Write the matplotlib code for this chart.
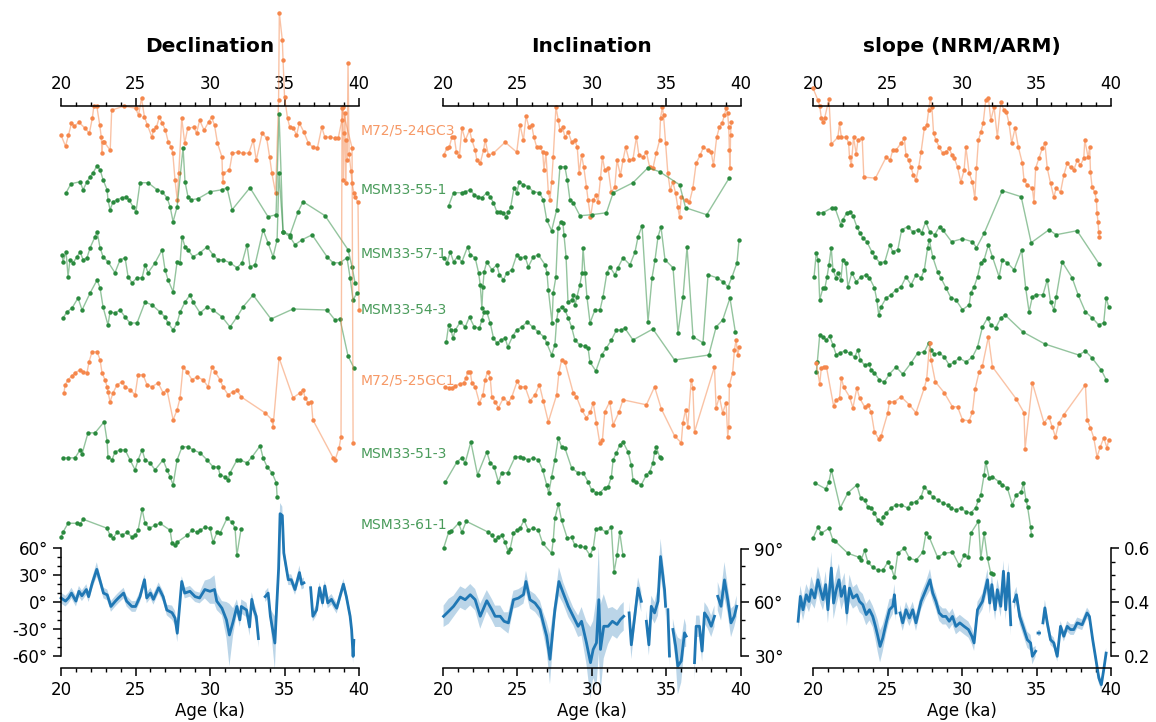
import numpy as np
import matplotlib
matplotlib.use("Agg")
import matplotlib.pyplot as plt
from matplotlib.ticker import MultipleLocator, FixedLocator
from matplotlib.transforms import blended_transform_factory

nan = np.nan

# cores, top to bottom
cores = ["M72/5-24GC3", "MSM33-55-1", "MSM33-57-1", "MSM33-54-3",
         "M72/5-25GC1", "MSM33-51-3", "MSM33-61-1"]
orange = "#f5874c"
green = "#2a8a3e"
core_colors = [orange, green, green, green, orange, green, green]

# ---------------- declination records (anomaly, deg) ----------------
dec_age_24gc3 = [20.0, 20.3, 20.5, 20.7, 20.9, 21.2, 21.6, 21.9, 22.1, 22.2, 22.4, 22.6, 22.7, 22.75, 22.8, 22.9,
                 23.3, 23.4, 24.2, 25.0, 25.2, 25.4, 25.6, 25.8, 26.1, 26.2, 26.4, 26.6, 26.8, 27.0, 27.2, 27.4,
                 27.5, 27.65, 27.8, 27.9, 28.1, 28.3, 28.5, 28.9, 29.1, 29.3, 29.6, 29.9, 30.1, 30.3, 30.5, 30.8,
                 30.85, 30.9, 31.3, 31.5, 31.9, 32.2, 32.6, 32.9, 33.1, 33.5, 33.8, 34.0, 34.15, 34.4, 34.6, 34.65,
                 34.85, 34.9, 35.0, 35.2, 35.35, 35.6, 35.8, 36.0, 36.3, 36.6, 36.9, 37.2, 37.5, 37.7, 38.05, 38.4,
                 38.6, 38.85, 38.9, 38.95, 39.0, 39.05, 39.1, 39.15, 39.2, 39.26, 39.33, 39.46, 39.53, 39.66, 39.73,
                 39.93, 40.0]
dec_24gc3 = [-5, -16, -5, 7, 4, 8, 2, -3, 12, 24, 24, 5, -7, -23, -12, -12,
             -20, 20, 24, 22, 15, 32, 13, 5, -7, 0, 3, 13, 7, 0, -12, -17,
             -23, -50, -70, -43, 12, -13, 2, 3, -3, 10, 0, 8, 13, 5, -13, -27,
             -52, -43, -40, -23, -22, -23, -23, -10, -30, -3, -8, -27, -43, -63, 30, 117,
             90, 70, 33, 12, 3, 2, -5, 7, -2, -13, -17, -18, 3, -7, -7, -8,
             -8, 10, 23, -50, -3, 17, -53, -10, -30, 67, -24, -41, -53, -63, -67,
             -72, -180]

dec_age_55 = [20.34, 20.67, 21.28, 21.48, 21.74, 21.95, 22.15, 22.42, 22.62, 22.82, 23.09, 23.15, 23.29, 23.49,
              23.76, 24.09, 24.36, 24.56, 24.83, 25.03, 25.3, 25.84, 26.44, 26.78, 27.11, 27.32, 27.52, 27.79,
              28.19, 28.32, 28.52, 28.72, 29.19, 30.0, 30.81, 31.14, 31.48, 32.68, 33.89, 34.43, 34.63, 34.9,
              35.37, 35.91, 36.24, 37.72, 39.26, 39.53, 39.73]
dec_55 = [-3, 6, 8, 0, 8, 13, 17, 24, 20, 10, 0, -10, -20, -12,
          -10, -8, -7, -10, -17, -22, 7, 7, 0, -2, -8, -17, -32, -17,
          42, 8, -7, -10, -9, -2, 0, 2, -20, 2, -27, -25, 76, -42,
          -45, -22, -12, -26, -60, -77, -93]

dec_age_57 = [20.07, 20.13, 20.34, 20.47, 20.6, 20.81, 21.07, 21.28, 21.48, 21.74, 21.95, 22.28, 22.42, 22.62,
              22.82, 23.15, 23.62, 23.96, 24.3, 24.5, 24.77, 25.1, 25.44, 25.64, 25.84, 26.31, 26.78, 26.98,
              27.18, 27.52, 27.79, 27.99, 28.12, 28.32, 28.52, 28.86, 29.33, 29.8, 30.2, 30.54, 30.87, 31.34,
              31.81, 32.15, 32.48, 32.68, 33.02, 33.56, 33.89, 34.23, 34.5, 34.63, 34.9, 35.37, 35.7, 36.17,
              36.85, 37.85, 38.26, 38.72, 39.19, 39.4, 39.6, 39.87]
dec_57 = [-1, -8, 2, -23, -6, -9, -3, 2, -6, -4, 6, 17, 22, 6,
          -3, -8, -19, -6, -4, -23, -29, -24, -24, -11, -19, -9, 4, -16,
          -26, -38, -8, -9, 17, 7, 4, -3, 1, 7, -1, -6, -6, -9,
          -14, -9, 9, -13, -11, 24, 11, -3, 14, 81, 22, 17, 9, 14,
          19, -3, -9, -9, -4, -24, -46, -39]

dec_age_54 = [20.13, 20.4, 20.74, 21.14, 21.41, 21.95, 22.42, 22.62, 22.82, 23.15, 23.29, 23.62, 23.96, 24.3,
              24.63, 25.1, 25.64, 26.11, 26.64, 26.98, 27.18, 27.52, 27.79, 27.99, 28.32, 28.66, 28.86, 29.33,
              29.8, 30.2, 30.81, 31.34, 31.81, 32.21, 32.89, 34.09, 35.57, 37.85, 38.39, 38.72, 39.26, 39.66]
dec_54 = [-8, -2, 2, 12, 0, 17, 30, 22, 3, -15, -2, -3, 0, -7,
          -13, -13, 8, 5, -2, -7, -13, -20, -13, -2, 8, 15, 8, -3,
          3, 0, -7, -17, -7, 3, 15, -9, 1, 0, -10, -9, -46, -58]

dec_age_25gc1 = [20.2, 20.27, 20.47, 20.74, 20.94, 21.28, 21.48, 21.74, 21.88, 22.08, 22.42, 22.62, 22.75, 22.95,
                 23.09, 23.15, 23.29, 23.49, 23.76, 24.09, 24.3, 24.63, 24.97, 25.17, 25.5, 25.77, 26.11, 26.51,
                 26.85, 27.11, 27.52, 27.79, 27.99, 28.19, 28.46, 28.79, 29.13, 29.53, 29.87, 30.13, 30.34, 30.67,
                 30.87, 31.21, 31.54, 31.81, 32.08, 33.69, 34.16, 34.23, 34.63, 35.57, 36.04, 36.24, 36.38, 36.58,
                 36.8, 36.9, 38.26, 38.39, 38.66, 38.79, 38.86, 39.53, 39.6]
dec_25gc1 = [-12, -4, 1, 5, 8, 11, 9, 8, 19, 29, 29, 21, 8, 1,
             -6, -11, -21, -12, -4, -1, -6, -9, -14, 6, 6, -4, -6, -2,
             -12, -9, -39, -29, -17, 14, 9, 1, 4, 1, -6, 14, 9, 1,
             -6, -14, -11, -9, -16, -32, -39, -46, 23, -17, -12, -9, -17, -22,
             -21, -39, -77, -79, -67, -56, 273, 233, -62]

dec_age_51 = [20.13, 20.47, 20.94, 21.28, 21.41, 21.81, 22.28, 22.89, 23.09, 23.15, 23.42, 23.62, 23.96, 24.3,
              24.63, 24.97, 25.17, 25.44, 25.64, 25.97, 26.31, 26.85, 27.11, 27.32, 27.52, 27.79, 28.12, 28.52,
              28.86, 29.33, 29.8, 30.2, 30.54, 30.67, 31.0, 31.21, 31.34, 31.81, 32.01, 32.48, 32.82, 33.36,
              33.56, 33.83, 34.16, 34.45, 34.5]
dec_51 = [-4, -4, -4, 4, 0, 21, 21, 32, 13, -3, -6, 2, 4, 4,
          -6, -16, -6, 4, -6, -9, -16, -6, -16, -23, -31, -6, 7, 7,
          4, 1, -6, -13, -13, -21, -23, -26, -19, -6, -6, -9, -3, 8,
          -4, -13, -19, -29, -43]

dec_age_61 = [20.0, 20.13, 20.47, 21.07, 21.28, 21.48, 23.09, 23.29, 23.49, 23.76, 24.09, 24.43, 24.77, 24.97,
              25.17, 25.44, 25.64, 25.91, 26.31, 26.64, 27.32, 27.45, 27.65, 27.79, 28.46, 28.79, 29.13, 29.33,
              29.66, 30.0, 30.2, 30.47, 30.67, 31.14, 31.48, 31.68, 31.8, 32.08]
dec_61 = [-12, -7, 2, 2, 1, 6, -3, -10, -13, -7, -10, -7, -12, -10,
          -5, 16, 2, -3, 0, 2, -5, -18, -20, -17, -10, -5, -7, -5,
          -2, -3, -17, -7, -8, 7, 3, -3, -30, -4]

# declination stack (deg) with half-width of the uncertainty band
dec_stack_age = [20.0, 20.3, 20.5, 20.7, 21.0, 21.2, 21.4, 21.7, 21.85, 22.1, 22.4, 22.6, 22.85, 23.1, 23.35,
                 23.65, 23.85, 24.2, 24.4, 24.75, 25.0, 25.3, 25.6, 25.75, 26.0, 26.2, 26.55, 26.85, 27.1, 27.45,
                 27.65, 27.8, 28.1, 28.3, 28.65, 29.0, 29.3, 29.65, 30.0, 30.3, 30.45, 30.8, 31.1, 31.3, 31.55,
                 31.8, 32.0, 32.1, 32.45, 32.65, 32.8, 32.95, 33.1, 33.25, 33.45, 33.7, 33.9, 34.05, 34.35, 34.6,
                 34.7, 34.85, 34.95, 35.25, 35.45, 35.7, 36.0, 36.15, 36.3, 36.5, 36.75, 36.9, 37.15, 37.35, 37.55,
                 37.7, 37.9, 38.15, 38.35, 38.5, 38.95, 39.15, 39.4, 39.5, 39.6, 39.65]
dec_stack = [4.5, 1, 4.5, 10, 1, 12, 7, 14, 6, 21.5, 36.6, 25, 10, 8, -5,
             1, 4.5, 10, 1, -5, -5, 6, 25, 4.5, 10, 3, 16, 6, -9, -12,
             -18, -35, 23, 10, 12, 6, 4.5, 14, 12, 14, 1, -7, -20, -37, -22,
             -5, -20, -5, -9, -28, 3, -9, -16, -41, nan, 6, 10, -16, -46, 37,
             99, 97, 55, 25, 25, 14, 33, 20, 21.5, nan, 16, -16, -9, 16, -1,
             18, -1, 3, -3, -7, 20, 6, -16, -31, -61, -43]
dec_stack_err = [6, 6, 6, 6, 6, 6, 6, 6, 6, 6, 8, 6, 6, 6, 6,
                 6, 6, 6, 6, 6, 6, 6, 6, 6, 6, 6, 6, 6, 6, 8,
                 8, 10, 6, 6, 6, 6, 6, 10, 14, 16, 10, 8, 20, 35, 15,
                 8, 8, 8, 8, 10, 8, 8, 8, 10, nan, 6, 6, 8, 30, 12,
                 12, 10, 8, 6, 6, 6, 8, 6, 6, nan, 6, 6, 6, 6, 6,
                 6, 6, 6, 6, 6, 6, 6, 6, 8, 8, 8]

# ---------------- inclination records (anomaly, deg) ----------------
inc_age_24gc3 = [20.05, 20.27, 20.42, 20.6, 20.76, 20.9, 21.1, 21.27, 21.5, 21.78, 21.94, 22.16, 22.27, 22.5,
                 22.72, 22.83, 23.05, 23.39, 24.17, 24.95, 25.17, 25.4, 25.57, 25.77, 25.95, 26.1, 26.29, 26.51,
                 26.69, 26.78, 26.91, 27.07, 27.18, 27.29, 27.4, 27.58, 27.74, 27.85, 28.03, 28.18, 28.41, 28.63,
                 28.85, 29.01, 29.14, 29.3, 29.45, 29.63, 29.74, 29.9, 30.08, 30.26, 30.41, 30.57, 30.7, 30.86,
                 31.08, 31.3, 31.53, 31.68, 31.91, 32.08, 32.26, 32.49, 32.75, 32.98, 33.15, 33.42, 33.65, 33.87,
                 34.09, 34.31, 34.54, 34.6, 34.72, 34.8, 34.94, 35.09, 35.25, 35.43, 35.61, 35.76, 35.88, 35.99,
                 36.28, 36.54, 36.77, 36.99, 37.26, 37.48, 37.77, 38.0, 38.15, 38.37, 38.55, 38.73, 38.89, 39.0,
                 39.1, 39.18, 39.22, 39.26, 39.3, 39.35]
inc_24gc3 = [-12.5, -9, -8.5, -3.5, -3.5, -11, -13, 1, -5, 0, -5, -10, -15, -16.5,
             -10, -5, -12.5, -11.5, -6, -11, 2.5, -5, 7, 1.5, 2.5, -3.5, -8.5, -8.5,
             -11, -20, -11.5, -31, -35, -26, -13.5, 11.5, 5, 0, 1.5, -3.5, -1, -6,
             -5, -8.5, -21.5, -12.5, -18.5, -28.5, -35, -43.5, -35, -32.5, -36, -24, -13.5, -20,
             -19, -31, -28.5, -15, -22.5, -15, -8.5, -15, -14.5, -3.5, -12.5, -13.5, -11, -18.5,
             -19, -11.5, -5, 6, 11.5, 7.5, -6.5, -21.5, -30, -26, -31.5, -38.5, -43.5, -33.5,
             -35, -36, -29, -16.5, -12.5, -8.5, -10, -11, -17.5, -3.5, 1.5, 3.5, 7.5, 11,
             8.5, 1.5, -10, -19, -2.5, 4]

inc_age_55 = [20.38, 20.71, 21.27, 21.49, 21.83, 22.1, 22.32, 22.61, 22.94, 23.17, 23.39, 23.61, 23.84, 24.01,
              24.24, 24.39, 24.55, 24.77, 24.95, 25.13, 25.4, 25.73, 26.06, 26.47, 26.73, 26.96, 27.29, 27.63,
              27.85, 28.18, 28.34, 28.52, 28.74, 29.19, 29.97, 30.97, 31.42, 32.75, 33.76, 34.54, 35.88, 36.28,
              37.7, 39.22]
inc_55 = [-8, -1.5, -1.5, -1, 0, -2.5, -3.5, -4, -1.5, -3.5, -6.5, -11, -11, -11.5,
          -13.5, -11, -8.5, 1, -1.5, 4, 2.5, 1.5, -1, -1.5, -5, -15, -20.5, -10,
          11.5, 11.5, 5, -5, -6.5, -13, -12.5, -11.5, -1.5, 3.5, 11, 9, 2.5, -9,
          -12.5, 6]

inc_age_57 = [20.09, 20.27, 20.49, 20.71, 20.98, 21.27, 21.65, 21.83, 22.16, 22.39, 22.5, 22.61, 22.68, 22.76,
              22.94, 23.28, 23.61, 23.79, 24.06, 24.28, 24.62, 24.95, 25.17, 25.51, 25.73, 26.06, 26.4, 26.85,
              26.98, 27.07, 27.32, 27.4, 27.58, 27.72, 27.92, 28.05, 28.12, 28.26, 28.39, 28.66, 28.72, 28.86,
              28.99, 29.19, 29.33, 29.4, 29.53, 29.66, 29.87, 30.2, 30.54, 30.74, 31.0, 31.2, 31.54, 31.74,
              32.08, 32.55, 32.89, 33.09, 33.36, 33.76, 34.03, 34.23, 34.43, 34.63, 34.9, 35.44, 35.77, 36.11,
              36.38, 36.78, 37.45, 37.79, 38.39, 38.79, 39.13, 39.4, 39.73, 39.87]
inc_57 = [-2, -4.5, 1, -4, -1.5, -4, 3.5, -0.5, -2, -9.5, -15.5, -27, -16.5, -9,
          -4, -8, -5.5, -10.5, -13, -9.5, -8, -0.5, -2, -1.5, -6.5, -1.5, -0.5, -5.5,
          -9.5, -18, -34.5, -19.5, -11.5, 13, 16, 15.5, 9.5, -1.5, -24, -23, -20.5, -25.5,
          -21.5, -15.5, -9.5, 3, -9.5, -21.5, -34.5, -28, -28, -21.5, -9.5, -6.5, -10.5, -7,
          -2, -5.5, 1, 8.5, 14, -34, -12, -3, 8.5, 13.5, -3, -7, -39.5, -21.5,
          3.5, -41.5, -44.5, -10.5, -12, -14, -16.5, -11.5, -4.5, 7]

inc_age_54 = [20.22, 20.38, 20.54, 20.67, 20.83, 21.16, 21.49, 21.78, 22.1, 22.45, 22.61, 22.76, 22.94, 23.17,
              23.39, 23.61, 23.88, 24.17, 24.35, 24.68, 24.95, 25.28, 25.66, 26.02, 26.4, 26.78, 26.96, 27.29,
              27.51, 27.63, 27.74, 27.96, 28.18, 28.41, 28.63, 28.85, 29.19, 29.52, 29.74, 29.86, 30.26, 30.64,
              30.97, 31.3, 31.64, 31.97, 32.2, 32.75, 34.09, 35.54, 37.84, 38.33, 38.77, 39.26, 39.62]
inc_54 = [-16, -7.5, -10, -14, -10, -6, -8.5, -3.5, -8.5, -9, -5, -1, -1, -6.5,
          -14, -16.5, -15, -14, -18.5, -13, -10, -8.5, -6, -8.5, -11, -13.5, -16.5, -22.5,
          -17.5, -5, 0, 1.5, 0, -4, -8.5, -15, -17.5, -18, -19, -26, -30.5, -22.5,
          -19, -15, -10, -10, -9, -15, -9.5, -25, -22.5, -8.5, -5, 6, -11]

inc_age_25gc1 = [20.16, 20.38, 20.6, 20.83, 21.16, 21.38, 21.56, 21.65, 21.83, 21.94, 22.16, 22.45, 22.68, 22.83,
                 22.99, 23.17, 23.28, 23.5, 23.72, 24.06, 24.39, 24.62, 24.99, 25.17, 25.51, 25.84, 26.18, 26.47,
                 26.73, 27.07, 27.63, 27.78, 27.96, 28.18, 28.74, 28.96, 29.3, 29.63, 29.9, 30.08, 30.3, 30.52,
                 30.7, 30.86, 31.19, 31.42, 31.82, 32.08, 33.65, 34.2, 34.65, 35.54, 35.99, 36.1, 36.28, 36.43,
                 36.66, 36.77, 36.88, 38.22, 38.33, 38.55, 38.77, 39.0, 39.11, 39.18, 39.22, 39.44, 39.56, 39.67,
                 39.78, 39.89]
inc_25gc1 = [-3, -3.5, -3.5, -2.5, -1.5, -1, 1.5, 4.5, 4.5, -1, -3, -11, -7, 0.5,
             4.5, 1.5, -8, -10.5, -13.5, -8.5, -11, -8, 0, -3, -3, -10, -7, -2,
             -10, -20.5, -7, 4, 10.5, 9.5, -6, -8, -14.5, -18.5, -15.5, -11, -21, -31,
             -29.5, -15.5, -10.5, -22, -15.5, -9.5, -12, -3, -14, -27.5, -31, -21, -14.5, -23,
             0.5, -3.5, -25.5, 7, -13.5, -8, -16, -11, -28, -23, -2, 4, 15.5, 20.5,
             13, 17]

inc_age_51 = [20.16, 20.94, 21.27, 21.49, 21.87, 22.32, 22.94, 23.17, 23.43, 23.72, 23.94, 24.34, 24.84, 25.17,
              25.4, 25.73, 26.06, 26.4, 26.69, 26.96, 27.1, 27.29, 27.51, 27.74, 27.96, 28.18, 28.63, 29.07,
              29.41, 29.74, 29.97, 30.3, 30.52, 30.86, 31.08, 31.3, 31.42, 31.64, 31.86, 32.08, 32.42, 32.64,
              32.75, 32.98, 33.31, 33.65, 33.87, 34.09, 34.2, 34.31, 34.54, 34.6]
inc_51 = [-14, -4, -2, -4.5, 6, -10.5, 1, -4.5, -6.5, -14, -9.5, -9.5, -1.5, -1.5,
          -2, -3, -2, -3, -8, -15.5, -19.5, -11.5, -3, 8, 3.5, 3, -7, -9.5,
          -9.5, -14, -18, -19.5, -19.5, -17, -16.5, -11.5, -3, 0.5, 4.5, 6, 1, -5.5,
          -13, -14, -15.5, -10.5, -9, -4.5, 1, 3.5, -1.5, -2]

inc_age_61 = [20.04, 20.38, 20.54, 21.05, 21.27, 21.56, 23.05, 23.28, 23.5, 23.72, 23.95, 24.17, 24.39, 24.5,
              24.73, 24.95, 25.17, 25.44, 25.73, 26.06, 26.4, 26.69, 27.29, 27.4, 27.51, 27.74, 27.96, 28.34,
              28.63, 28.85, 29.19, 29.52, 29.86, 30.08, 30.26, 30.52, 30.97, 31.3, 31.48, 31.68, 31.86, 32.08]
inc_61 = [-11.5, -3.5, -3, 1, -3.5, 2, -3.5, -5, -7.5, -6, -5, -8.5, -13.5, -12,
          -4, -2.5, -1.5, 2.5, -2.5, -1.5, -2.5, -9, -14, -7.5, 3.5, 10.5, 2.5, -6.5,
          -6, -10, -10.5, -11, -15, -11.5, -2, -1.5, -3.5, -1, -23.5, -15, -3.5, -15]

inc_stack_age = [20.04, 20.38, 20.71, 21.16, 21.49, 21.83, 22.16, 22.5, 22.94, 23.28, 23.5, 23.84, 24.1, 24.39,
                 24.73, 25.06, 25.4, 25.57, 25.84, 26.18, 26.51, 26.73, 26.96, 27.18, 27.51, 27.78, 28.07, 28.41,
                 28.74, 29.07, 29.3, 29.63, 29.9, 30.08, 30.3, 30.46, 30.57, 30.79, 31.08, 31.37, 31.68, 31.91,
                 32.13, 32.3, 32.49, 32.64, 32.87, 33.09, 33.31, 33.5, 33.65, 33.82, 33.98, 34.2, 34.43, 34.6,
                 34.87, 34.94, 35.0, 35.09, 35.2, 35.3, 35.43, 35.61, 35.76, 35.99, 36.21, 36.32, 36.6, 36.88,
                 36.99, 37.21, 37.39, 37.55, 37.77, 38.0, 38.22, 38.33, 38.44, 38.66, 38.89, 39.11, 39.33, 39.55,
                 39.71]
inc_stack = [52, 54.8, 57.6, 62.8, 61.3, 64.1, 61.3, 52, 60.7, 55.7, 52, 52, 49.2, 48.3,
             61.3, 62.2, 64.1, 71.5, 61.3, 59.4, 55.7, 48.3, 40.9, 27.9, 55.7, 71.5, 65, 57.6,
             52, 46.4, 49.2, 37.1, 26, 33.4, 37.1, 61.3, 33.4, 46.4, 46.4, 49.2, 47.4, 50.2,
             52, nan, 53.9, 36, 52, 67.8, 60.4, nan, 49.2, 36, 57.6, 53.9, 60.4, 85.5,
             66.9, 57.6, nan, 55.7, 29.7, nan, 44.6, 35.3, 24.1, 26.9, 42.7, 40.9, nan, 26,
             46.4, 46.4, 32.5, 53.9, 51.1, 46.4, 52, nan, 63.2, 57.6, 72.4, 61.3, 48.3, 52,
             57.6]
inc_stack_err = [6, 7, 6, 6, 6, 6, 6, 7, 6, 6, 6, 6, 5, 6, 5, 5, 5, 6, 5, 5,
                 5, 6, 8, 14, 6, 8, 6, 6, 5, 6, 8, 12, 20, 16, 25, 30, 25, 18, 10, 8,
                 8, 8, 8, nan, 6, 8, 6, 6, 6, nan, 6, 6, 6, 6, 8, 10, 8, 6, nan, 6,
                 6, nan, 6, 8, 16, 12, 8, 6, nan, 10, 6, 6, 6, 6, 6, 6, 6, nan, 8, 8,
                 10, 8, 8, 6, 6]

# ---------------- slope (NRM/ARM) records (anomaly) ----------------
sl_age_24gc3 = [20.0, 20.33, 20.45, 20.56, 20.67, 20.78, 21.07, 21.23, 21.67, 21.78, 21.9, 22.23, 22.39, 22.45,
                22.57, 22.72, 22.9, 23.01, 23.3, 23.41, 24.19, 24.91, 25.17, 25.35, 25.57, 25.91, 26.13, 26.24,
                26.42, 26.58, 26.73, 26.91, 27.09, 27.25, 27.47, 27.63, 27.76, 27.87, 27.98, 28.09, 28.25, 28.47,
                28.7, 28.92, 29.14, 29.32, 29.48, 29.7, 29.92, 30.14, 30.26, 30.48, 30.7, 30.86, 30.97, 31.1,
                31.26, 31.42, 31.59, 31.77, 31.93, 32.15, 32.37, 32.6, 32.82, 32.98, 33.15, 33.33, 33.56, 33.78,
                34.05, 34.16, 34.38, 34.72, 34.83, 34.94, 35.16, 35.39, 35.56, 35.72, 35.94, 36.16, 36.32, 36.61,
                36.83, 37.06, 37.28, 37.5, 37.73, 37.95, 38.17, 38.24, 38.46, 38.57, 38.62, 38.73, 38.91, 39.02,
                39.06, 39.13, 39.17, 39.22]
sl_24gc3 = [0.168, 0.12, 0.096, 0.048, 0.032, 0.048, 0.124, -0.056, -0.028, 0.028, -0.028, -0.028, -0.052, -0.108,
            -0.14, -0.028, -0.096, -0.04, -0.032, -0.188, -0.192, -0.108, -0.12, -0.08, -0.08, -0.052, -0.032, -0.1,
            -0.12, -0.148, -0.18, -0.2, -0.148, -0.088, 0.008, 0.02, 0.08, 0.128, 0.092, -0.012, -0.04, -0.068,
            -0.092, -0.088, -0.072, -0.1, -0.112, -0.148, -0.208, -0.16, -0.068, -0.172, -0.208, -0.272, -0.152, -0.04,
            -0.008, 0.028, 0.12, 0.128, 0.04, 0.092, -0.028, 0.112, 0.08, 0.072, 0.028, -0.052, 0.008, -0.068,
            -0.132, -0.2, -0.22, -0.232, -0.288, -0.152, -0.112, -0.072, -0.052, -0.152, -0.212, -0.268, -0.232, -0.248,
            -0.18, -0.132, -0.148, -0.16, -0.12, -0.14, -0.112, -0.04, -0.108, -0.068, -0.168, -0.228, -0.248, -0.28,
            -0.332, -0.368, -0.408, -0.428]

sl_age_55 = [20.34, 20.67, 21.27, 21.47, 21.87, 22.0, 22.27, 22.47, 22.68, 22.94, 23.14, 23.34, 23.61, 23.95,
             24.15, 24.48, 24.82, 25.15, 25.35, 25.69, 25.95, 26.35, 26.69, 27.02, 27.29, 27.56, 27.83, 28.16,
             28.49, 28.7, 29.3, 30.03, 30.7, 30.97, 31.5, 32.7, 33.97, 34.64, 35.84, 36.31, 37.72, 39.19]
sl_55 = [-0.092, -0.092, -0.072, -0.072, -0.14, -0.12, -0.092, -0.088, -0.104, -0.148, -0.172, -0.192, -0.208, -0.248,
         -0.268, -0.292, -0.288, -0.22, -0.248, -0.24, -0.16, -0.148, -0.168, -0.16, -0.172, -0.128, -0.168, -0.18,
         -0.148, -0.16, -0.208, -0.196, -0.208, -0.232, -0.172, -0.004, -0.028, -0.212, -0.16, -0.18, -0.164, -0.296]

sl_age_57 = [20.07, 20.22, 20.34, 20.45, 20.67, 20.8, 20.94, 21.07, 21.22, 21.34, 21.54, 21.67, 21.87, 22.0,
             22.2, 22.34, 22.61, 22.9, 23.23, 23.57, 23.79, 24.12, 24.28, 24.41, 24.57, 24.91, 25.24, 25.57,
             25.91, 26.24, 26.58, 26.91, 27.25, 27.47, 27.69, 27.8, 28.03, 28.36, 28.58, 28.92, 29.25, 29.59,
             30.03, 30.48, 30.59, 30.81, 31.04, 31.26, 31.48, 31.77, 32.04, 32.49, 32.71, 33.04, 33.49, 34.0,
             34.27, 34.5, 34.72, 34.94, 35.43, 35.72, 35.94, 36.17, 36.32, 36.72, 37.39, 37.79, 38.28, 38.73,
             39.17, 39.51, 39.67, 39.84]
sl_57 = [-0.092, 0.004, -0.024, -0.184, -0.136, -0.136, -0.092, -0.044, 0.024, -0.064, -0.096, -0.076, -0.104, -0.024,
         -0.036, -0.132, -0.076, -0.112, -0.092, -0.084, -0.096, -0.136, -0.184, -0.244, -0.212, -0.176, -0.164, -0.144,
         -0.132, -0.092, -0.124, -0.084, -0.096, -0.064, 0.024, 0.056, -0.012, -0.072, -0.096, -0.136, -0.176, -0.184,
         -0.224, -0.204, -0.156, -0.132, -0.092, -0.036, -0.024, 0.036, -0.012, -0.092, -0.024, -0.036, -0.064, 0.016,
         -0.136, -0.232, -0.172, -0.164, -0.164, -0.104, -0.192, -0.224, -0.172, -0.032, -0.096, -0.164, -0.232, -0.256,
         -0.284, -0.276, -0.176, -0.212]

sl_age_54 = [20.22, 20.29, 20.45, 20.67, 20.9, 21.11, 21.34, 21.56, 21.78, 22.12, 22.45, 22.79, 23.01, 23.17,
             23.46, 23.75, 23.9, 24.12, 24.46, 24.79, 25.13, 25.57, 26.02, 26.58, 27.02, 27.47, 27.76, 27.92,
             28.14, 28.47, 28.81, 29.14, 29.48, 29.81, 30.26, 30.7, 31.04, 31.37, 31.71, 31.93, 32.26, 32.6,
             32.89, 34.09, 35.56, 37.83, 38.28, 38.73, 39.35, 39.68]
sl_54 = [-0.248, -0.208, -0.1, -0.108, -0.12, -0.104, -0.14, -0.18, -0.172, -0.164, -0.172, -0.188, -0.16, -0.2,
         -0.22, -0.216, -0.24, -0.252, -0.28, -0.288, -0.256, -0.228, -0.256, -0.212, -0.172, -0.168, -0.132, -0.16,
         -0.176, -0.172, -0.188, -0.22, -0.208, -0.192, -0.208, -0.188, -0.148, -0.068, -0.032, -0.06, -0.072, -0.032,
         -0.02, -0.088, -0.136, -0.18, -0.164, -0.192, -0.24, -0.28]

sl_age_25gc1 = [20.22, 20.45, 20.56, 20.71, 20.9, 21.38, 21.56, 21.78, 21.9, 22.05, 22.45, 22.68, 22.94, 23.12,
                23.46, 23.68, 23.9, 24.12, 24.41, 24.57, 25.02, 25.13, 25.46, 25.91, 26.47, 26.91, 27.47, 27.63,
                27.83, 27.92, 28.21, 28.81, 29.36, 29.7, 30.03, 30.48, 30.7, 30.88, 31.15, 31.37, 31.77, 32.04,
                33.63, 34.16, 34.23, 34.72, 35.5, 35.83, 36.05, 36.27, 36.5, 36.83, 38.28, 38.4, 38.62, 38.84,
                39.06, 39.28, 39.51, 39.73, 39.84]
sl_25gc1 = [0.072, -0.012, 0.052, 0.056, 0.056, -0.1, -0.076, -0.068, 0.012, -0.024, -0.064, -0.108, -0.028, -0.068,
            -0.104, -0.096, -0.124, -0.204, -0.232, -0.22, -0.128, -0.084, -0.084, -0.064, -0.096, -0.128, -0.028, 0.008,
            0.152, 0.084, -0.004, -0.048, -0.104, -0.104, -0.156, -0.16, -0.124, -0.032, 0.036, 0.06, 0.176, 0.056,
            -0.072, -0.128, -0.272, -0.008, -0.168, -0.144, -0.184, -0.224, -0.168, -0.136, -0.016, -0.156, -0.188, -0.228,
            -0.304, -0.264, -0.228, -0.268, -0.236]

sl_age_51 = [20.11, 20.85, 21.07, 21.23, 21.83, 22.34, 22.94, 23.19, 23.46, 23.68, 23.9, 24.12, 24.35, 24.57,
             24.68, 24.91, 25.24, 25.57, 25.91, 26.35, 26.58, 26.91, 27.25, 27.47, 27.76, 28.03, 28.36, 28.7,
             29.03, 29.25, 29.59, 29.92, 30.26, 30.59, 30.92, 31.1, 31.26, 31.48, 31.59, 31.82, 32.04, 32.49,
             32.71, 33.04, 33.38, 33.63, 33.97, 34.12, 34.29, 34.4, 34.6, 34.66]
sl_51 = [-0.116, -0.14, -0.112, -0.064, -0.216, -0.156, -0.124, -0.176, -0.184, -0.212, -0.216, -0.236, -0.264, -0.276,
         -0.252, -0.236, -0.216, -0.204, -0.204, -0.216, -0.196, -0.192, -0.172, -0.132, -0.152, -0.172, -0.184, -0.196,
         -0.204, -0.216, -0.224, -0.216, -0.232, -0.236, -0.216, -0.184, -0.164, -0.084, -0.032, -0.096, -0.092, -0.112,
         -0.124, -0.136, -0.204, -0.164, -0.152, -0.116, -0.184, -0.212, -0.292, -0.324]

sl_age_61 = [20.0, 20.33, 20.56, 21.07, 21.34, 21.49, 22.34, 23.08, 23.23, 23.46, 23.68, 24.01, 24.35, 24.68,
             25.02, 25.24, 25.46, 25.69, 26.13, 26.47, 26.91, 27.36, 27.58, 27.8, 28.36, 28.81, 29.36, 29.81,
             30.14, 30.41, 30.59, 31.1, 31.26, 31.48, 31.71, 31.93, 32.11]
sl_61 = [-0.052, -0.008, -0.032, -0.012, -0.06, -0.064, -0.112, -0.128, -0.14, -0.1, -0.148, -0.168, -0.18, -0.18,
         -0.148, -0.168, -0.208, -0.112, -0.092, -0.132, -0.14, -0.108, -0.032, -0.048, -0.128, -0.112, -0.108, -0.16,
         -0.12, -0.128, -0.032, 0.016, -0.132, -0.032, -0.132, -0.192, -0.196]

sl_stack_age = [19.0, 19.15, 19.33, 19.55, 19.73, 19.89, 20.11, 20.33, 20.49, 20.67, 20.85, 21.0, 21.23, 21.38,
                21.56, 21.74, 21.9, 22.12, 22.27, 22.45, 22.68, 22.94, 23.12, 23.34, 23.57, 23.79, 24.01, 24.19,
                24.35, 24.5, 24.68, 24.91, 25.13, 25.35, 25.46, 25.57, 25.7, 25.84, 26.02, 26.24, 26.47, 26.69,
                26.91, 27.25, 27.58, 27.85, 28.03, 28.25, 28.47, 28.7, 28.92, 29.14, 29.36, 29.59, 29.85, 30.14,
                30.43, 30.66, 30.81, 31.04, 31.37, 31.71, 31.86, 32.0, 32.22, 32.37, 32.6, 32.78, 32.93, 33.11,
                33.27, 33.38, 33.49, 33.65, 33.87, 34.09, 34.38, 34.6, 34.72, 34.94, 35.05, 35.1, 35.2, 35.3,
                35.43, 35.56, 35.72, 35.94, 36.16, 36.39, 36.61, 36.83, 37.06, 37.28, 37.5, 37.73, 38.06, 38.39,
                38.55, 38.77, 38.95, 39.18, 39.35, 39.51, 39.67]
sl_stack = [0.328, 0.421, 0.371, 0.427, 0.402, 0.446, 0.415, 0.483, 0.446, 0.409, 0.465, 0.371, 0.527, 0.396,
            0.446, 0.483, 0.421, 0.459, 0.359, 0.452, 0.415, 0.427, 0.402, 0.39, 0.353, 0.371, 0.346, 0.309,
            0.272, 0.234, 0.265, 0.322, 0.371, 0.384, 0.427, 0.359, nan, 0.359, 0.322, 0.371, 0.34, 0.371,
            0.322, 0.402, 0.446, 0.483, 0.434, 0.402, 0.359, 0.346, 0.346, 0.328, 0.346, 0.309, 0.322, 0.309,
            0.297, 0.272, 0.247, 0.371, 0.402, 0.483, 0.396, 0.465, 0.371, 0.446, 0.384, 0.515, 0.371, 0.508,
            0.315, nan, 0.402, 0.427, 0.346, 0.309, 0.259, 0.247, 0.197, 0.216, nan, 0.284, 0.284, nan,
            0.322, 0.378, 0.322, 0.259, 0.247, 0.197, 0.309, 0.272, 0.309, 0.297, 0.297, 0.322, 0.315, 0.359,
            0.346, 0.259, 0.197, 0.116, 0.091, 0.147, 0.209]
sl_stack_err = [0.03, 0.04, 0.04, 0.04, 0.04, 0.05, 0.04, 0.05, 0.05, 0.04,
                0.05, 0.05, 0.06, 0.06, 0.06, 0.06, 0.05, 0.05, 0.05, 0.05,
                0.04, 0.04, 0.04, 0.04, 0.04, 0.04, 0.04, 0.05, 0.06, 0.06,
                0.05, 0.04, 0.04, 0.03, 0.04, 0.03, nan, 0.03, 0.03, 0.03,
                0.03, 0.03, 0.03, 0.03, 0.03, 0.04, 0.03, 0.03, 0.03, 0.03,
                0.03, 0.03, 0.03, 0.03, 0.03, 0.03, 0.03, 0.03, 0.03, 0.03,
                0.03, 0.04, 0.04, 0.04, 0.04, 0.04, 0.04, 0.04, 0.04, 0.04,
                0.04, nan, 0.03, 0.03, 0.03, 0.03, 0.03, 0.03, 0.03, 0.02,
                nan, 0.01, 0.01, nan, 0.02, 0.03, 0.03, 0.02, 0.02, 0.02,
                0.02, 0.02, 0.02, 0.02, 0.02, 0.02, 0.02, 0.02, 0.02, 0.02,
                0.02, 0.02, 0.02, 0.02, 0.02]

dec_records = [(dec_age_24gc3, dec_24gc3), (dec_age_55, dec_55), (dec_age_57, dec_57), (dec_age_54, dec_54),
               (dec_age_25gc1, dec_25gc1), (dec_age_51, dec_51), (dec_age_61, dec_61)]
inc_records = [(inc_age_24gc3, inc_24gc3), (inc_age_55, inc_55), (inc_age_57, inc_57), (inc_age_54, inc_54),
               (inc_age_25gc1, inc_25gc1), (inc_age_51, inc_51), (inc_age_61, inc_61)]
sl_records = [(sl_age_24gc3, sl_24gc3), (sl_age_55, sl_55), (sl_age_57, sl_57), (sl_age_54, sl_54),
              (sl_age_25gc1, sl_25gc1), (sl_age_51, sl_51), (sl_age_61, sl_61)]

# layout: baseline of every record in axes fraction, record scale in axes fraction per unit
track_pos = [0.957, 0.851, 0.737, 0.637, 0.511, 0.381, 0.254]
ax_h_px = 562.0

panels = [
    dict(title="Declination", left=0.0528, records=dec_records, gain=1.0 / ax_h_px,
         stack=(dec_stack_age, dec_stack, dec_stack_err), ylim=(-74.0, 556.2), side="left",
         bounds=(-60, 60), yticks=[-60, -30, 0, 30, 60],
         ylabels=["-60°", "-30°", "0°", "30°", "60°"], yminor=np.arange(-60, 61, 10)),
    dict(title="Inclination", left=0.3832, records=inc_records, gain=2.0 / ax_h_px,
         stack=(inc_stack_age, inc_stack, inc_stack_err), ylim=(23.0, 338.2), side="right",
         bounds=(30, 90), yticks=[30, 60, 90], ylabels=["30°", "60°", "90°"],
         yminor=np.arange(30, 91, 10)),
    dict(title="slope (NRM/ARM)", left=0.7033, records=sl_records, gain=250.0 / ax_h_px,
         stack=(sl_stack_age, sl_stack, sl_stack_err), ylim=(0.1533, 2.254), side="right",
         bounds=(0.2, 0.6), yticks=[0.2, 0.4, 0.6], ylabels=["0.2", "0.4", "0.6"],
         yminor=np.arange(0.2, 0.61, 0.05)),
]

stack_color = "#1f77b4"

fig = plt.figure(figsize=(11.56, 7.22), dpi=100)

for k, p in enumerate(panels):
    ax = fig.add_axes([p["left"], 0.0748, 0.2578, 0.7784])
    ax.patch.set_visible(False)
    trans = blended_transform_factory(ax.transData, ax.transAxes)

    # stacked individual records
    for (age, val), base, col in zip(p["records"], track_pos, core_colors):
        yy = base + np.asarray(val, dtype=float) * p["gain"]
        ax.plot(age, yy, "-", color=col, lw=1.0, alpha=0.5, transform=trans, clip_on=False)
        ax.plot(age, yy, "o", color=col, ms=3.2, mew=0, transform=trans, clip_on=False)

    # labels between the first two panels
    if k == 0:
        for name, base, col in zip(cores, track_pos, core_colors):
            ax.text(40.1, base, name, transform=trans, color=col, alpha=0.85,
                    fontsize=10, ha="left", va="center")

    # stack with uncertainty band
    s_age, s_val, s_err = [np.asarray(a, dtype=float) for a in p["stack"]]
    ax.fill_between(s_age, s_val - s_err, s_val + s_err, color=stack_color, alpha=0.3,
                    lw=0, clip_on=False)
    ax.plot(s_age, s_val, color=stack_color, lw=2.0, clip_on=False)

    ax.set_xlim(20, 40)
    ax.set_ylim(*p["ylim"])
    ax.xaxis.set_major_locator(MultipleLocator(5))
    ax.xaxis.set_minor_locator(MultipleLocator(1))
    ax.xaxis.set_ticks_position("both")
    ax.tick_params(axis="x", which="both", labeltop=True, labelbottom=True)
    ax.tick_params(which="major", length=6, width=1.1, labelsize=12)
    ax.tick_params(which="minor", length=3, width=1.0)
    ax.set_xlabel("Age (ka)", fontsize=12, labelpad=2)

    other = "right" if p["side"] == "left" else "left"
    ax.spines[other].set_visible(False)
    ax.spines[p["side"]].set_bounds(*p["bounds"])
    for s in ax.spines.values():
        s.set_linewidth(1.1)
    if p["side"] == "right":
        ax.yaxis.tick_right()
    else:
        ax.yaxis.tick_left()
    ax.set_yticks(p["yticks"])
    ax.set_yticklabels(p["ylabels"])
    ax.yaxis.set_minor_locator(FixedLocator(p["yminor"]))

    fig.text(p["left"] + 0.2578 / 2, 1 - 47 / 722, p["title"], fontsize=14.5,
             fontweight="bold", ha="center", va="center")

fig.savefig("out.png", dpi=100)
